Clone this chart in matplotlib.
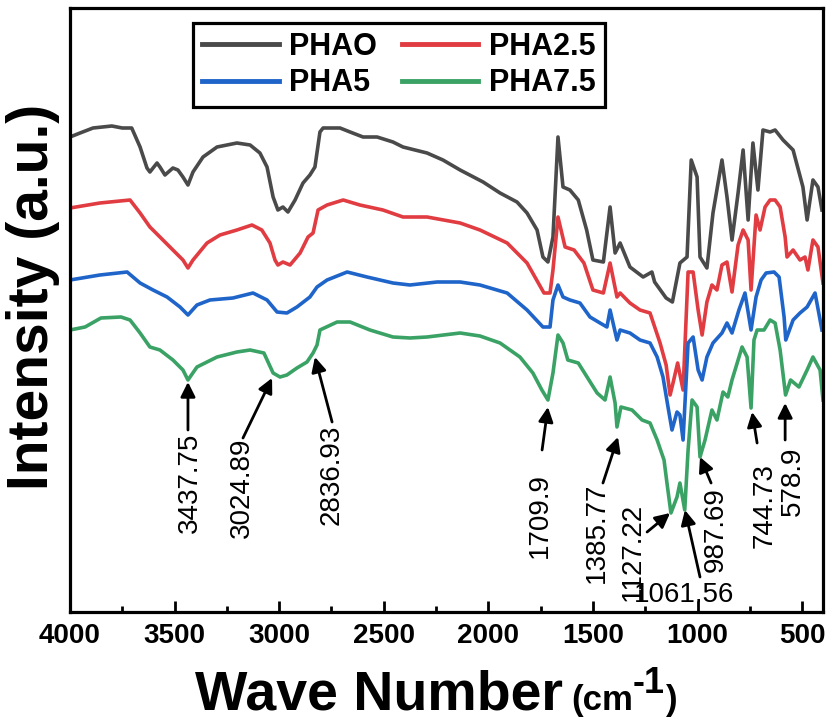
import matplotlib.pyplot as plt
from matplotlib.ticker import MultipleLocator
from matplotlib.transforms import IdentityTransform

plt.rcParams['font.family'] = ['Liberation Sans', 'DejaVu Sans']

# FTIR spectra (intensity in arbitrary units, offset stacked)
phao_wn = [4000, 3952, 3890, 3800, 3750, 3705, 3665, 3632, 3618, 3584, 3570, 3546, 3508, 3484, 3460,
           3436, 3412, 3364, 3297, 3202, 3139, 3092, 3058, 3029, 3006, 2982, 2958, 2924, 2886, 2853,
           2829, 2805, 2790, 2709, 2661, 2599, 2532, 2456, 2408, 2293, 2217, 2135, 2025, 1944, 1863,
           1815, 1767, 1739, 1715, 1691, 1667, 1643, 1610, 1570, 1530, 1500, 1450, 1418, 1394, 1370,
           1323, 1260, 1218, 1205, 1150, 1120, 1084, 1050, 1030, 1002, 988, 955, 926, 883, 859,
           835, 806, 782, 758, 735, 711, 687, 653, 629, 591, 543, 496, 476, 448, 424, 405]
phao_int = [475, 479, 484, 486, 484, 484, 465, 444, 440, 449, 445, 437, 444, 442, 435,
            427, 440, 455, 465, 469, 467, 459, 445, 415, 402, 405, 400, 412, 429, 437,
            445, 480, 484, 484, 480, 475, 475, 470, 465, 459, 452, 442, 430, 419, 410,
            399, 382, 355, 350, 375, 475, 425, 422, 412, 382, 352, 350, 405, 359, 369,
            345, 335, 340, 330, 314, 310, 349, 355, 452, 435, 355, 344, 399, 452, 415,
            372, 419, 462, 392, 469, 422, 482, 480, 482, 472, 462, 425, 392, 432, 425, 402]

pha25_wn = [4000, 3857, 3713, 3665, 3618, 3570, 3508, 3460, 3436, 3412, 3345, 3283, 3202, 3130, 3083,
            3044, 3020, 3006, 2982, 2948, 2900, 2862, 2838, 2814, 2771, 2694, 2614, 2504, 2408, 2293,
            2135, 2040, 1910, 1815, 1734, 1705, 1691, 1667, 1633, 1590, 1543, 1500, 1450, 1418, 1385,
            1370, 1323, 1275, 1227, 1179, 1150, 1131, 1117, 1095, 1069, 1045, 1021, 997, 978, 955,
            931, 907, 883, 859, 835, 806, 782, 758, 744, 720, 701, 677, 653, 629, 605,
            581, 572, 543, 510, 486, 472, 448, 424, 400]
pha25_int = [404, 409, 412, 399, 385, 375, 362, 352, 344, 352, 369, 377, 382, 387, 382,
             369, 352, 347, 350, 347, 359, 375, 379, 402, 407, 412, 407, 402, 395, 395,
             389, 382, 369, 349, 319, 319, 342, 395, 365, 362, 349, 322, 319, 349, 315,
             319, 309, 302, 299, 269, 247, 217, 229, 249, 222, 340, 340, 302, 277, 310,
             327, 322, 347, 350, 320, 367, 382, 372, 322, 397, 382, 405, 412, 412, 405,
             375, 355, 362, 352, 355, 342, 372, 365, 329]

pha5_wn = [4000, 3857, 3727, 3665, 3603, 3536, 3474, 3436, 3393, 3331, 3221, 3125, 3058, 3010, 2963,
           2915, 2853, 2819, 2771, 2675, 2580, 2456, 2375, 2245, 2135, 2040, 1910, 1815, 1739, 1705,
           1691, 1667, 1643, 1610, 1562, 1514, 1466, 1433, 1418, 1385, 1370, 1323, 1275, 1227, 1193,
           1165, 1141, 1122, 1098, 1084, 1069, 1045, 1021, 997, 978, 955, 926, 883, 859, 835,
           802, 773, 744, 720, 696, 672, 634, 610, 586, 578, 543, 510, 476, 438, 405]
pha5_int = [332, 337, 340, 329, 322, 315, 305, 297, 307, 312, 314, 319, 312, 300, 299,
            305, 315, 325, 332, 340, 335, 329, 327, 330, 330, 327, 319, 302, 285, 285,
            312, 327, 315, 312, 309, 295, 289, 285, 302, 272, 282, 279, 272, 269, 255,
            235, 205, 182, 200, 197, 172, 269, 275, 242, 232, 255, 269, 279, 289, 279,
            302, 319, 282, 315, 332, 339, 340, 335, 295, 272, 292, 299, 305, 319, 282]

pha75_wn = [4000, 3928, 3852, 3756, 3713, 3665, 3618, 3570, 3508, 3460, 3436, 3393, 3297, 3202, 3139,
            3073, 3029, 2996, 2963, 2915, 2867, 2838, 2819, 2805, 2723, 2661, 2566, 2456, 2375, 2293,
            2135, 2040, 1944, 1849, 1787, 1744, 1715, 1691, 1667, 1643, 1620, 1570, 1528, 1480, 1442,
            1418, 1394, 1385, 1366, 1313, 1265, 1227, 1193, 1160, 1146, 1127, 1098, 1084, 1061, 1045,
            1026, 1002, 988, 964, 931, 907, 878, 855, 835, 787, 763, 744, 730, 715, 682,
            653, 629, 605, 579, 555, 515, 476, 448, 414, 400]
pha75_int = [282, 285, 294, 295, 292, 279, 265, 262, 252, 242, 232, 245, 255, 260, 262,
             259, 239, 235, 237, 244, 250, 259, 267, 282, 290, 290, 282, 275, 274, 275,
             279, 276, 269, 255, 239, 222, 212, 239, 277, 269, 252, 249, 235, 219, 212,
             235, 209, 185, 205, 202, 192, 189, 172, 152, 129, 99, 115, 129, 102, 162,
             212, 205, 155, 172, 202, 192, 220, 215, 232, 265, 255, 204, 272, 282, 282,
             292, 289, 262, 217, 232, 225, 242, 255, 242, 212]

names = ['PHAO', 'PHA2.5', 'PHA5', 'PHA7.5']
colors = ['#4a4a4a', '#e03c41', '#1f65c9', '#3ba266']

peak_labels = ['3437.75', '3024.89', '2836.93', '1709.9', '1385.77',
               '1127.22', '1061.56', '987.69', '744.73', '578.9']

# (arrow head, arrow tail, text anchor, rotation) in data coordinates
peak_layout = [
    ((3436, 230), (3436, 182), (3426, 179), 90),
    ((3034, 234), (3173, 174), (3178, 174), 90),
    ((2829, 255), (2747, 190), (2747, 187), 90),
    ((1715, 205), (1743, 162), (1753, 139), 90),
    ((1380, 175), (1452, 129), (1480, 129), 90),
    ((1131, 99), (1241, 80), (1308, 109), 90),
    ((1060, 102), (988, 35), (1064, 17), 0),
    ((988, 155), (935, 129), (912, 125), 90),
    ((739, 200), (715, 169), (677, 149), 90),
    ((581, 209), (581, 172), (543, 165), 90),
]

fig = plt.figure(figsize=(8.3, 7.24), dpi=100)
ax = fig.add_axes([70 / 830, 112 / 724, 753 / 830, 604 / 724])

series = [(phao_wn, phao_int), (pha25_wn, pha25_int), (pha5_wn, pha5_int), (pha75_wn, pha75_int)]
lines = []
for (wn, it), name, c in zip(series, names, colors):
    ln, = ax.plot(wn, it, color=c, lw=2.6, label=name, solid_joinstyle='round')
    lines.append(ln)

ax.set_xlim(4000, 400)
ax.set_ylim(0, 604)
ax.set_yticks([])
ax.xaxis.set_major_locator(MultipleLocator(500))
ax.xaxis.set_minor_locator(MultipleLocator(250))
ax.tick_params(axis='x', which='major', direction='in', length=8, width=2, pad=8,
               labelsize=20)
ax.tick_params(axis='x', which='minor', direction='in', length=4.5, width=2)
for lab in ax.get_xticklabels():
    lab.set_fontweight('bold')
for sp in ax.spines.values():
    sp.set_linewidth(2.3)

for lab, (head, tail, txt, rot) in zip(peak_labels, peak_layout):
    ax.annotate('', xy=head, xytext=tail,
                arrowprops=dict(arrowstyle='-|>', color='black', lw=2, mutation_scale=22,
                                shrinkA=0, shrinkB=0))
    if rot == 90:
        ax.text(txt[0], txt[1], lab, rotation=90, ha='center', va='top', fontsize=20)
    else:
        ax.text(txt[0], txt[1], lab, ha='center', va='center', fontsize=20)

# legend filled row-wise: PHAO, PHA2.5 / PHA5, PHA7.5
order = [0, 2, 1, 3]
leg = ax.legend([lines[i] for i in order], [names[i] for i in order], ncol=2,
                loc='upper left', bbox_to_anchor=(123 / 753, 589 / 604),
                borderaxespad=0, frameon=True, fancybox=False, edgecolor='black',
                framealpha=1, handlelength=2.5, handletextpad=0.35, columnspacing=0.8,
                labelspacing=0.2, borderpad=0.3, prop={'weight': 'bold', 'size': 22})
leg.get_frame().set_linewidth(2.3)
for ln in leg.get_lines():
    ln.set_linewidth(3.5)

# axis titles
fig.text(33 / 830, 1 - 297 / 724, 'Intensity (a.u.)', rotation=90, ha='center', va='center',
         fontsize=41, fontweight='bold')

fig.canvas.draw()
r = fig.canvas.get_renderer()
ident = IdentityTransform()
base = 724 - 710
t1 = fig.text(195, base, 'Wave Number', transform=ident, fontsize=40, fontweight='bold',
              va='baseline', ha='left')
x = t1.get_window_extent(r).x1 + 8
t2 = fig.text(x, base, '(cm', transform=ident, fontsize=25, fontweight='bold',
              va='baseline', ha='left')
x = t2.get_window_extent(r).x1
t3 = fig.text(x, base + 17, '-1', transform=ident, fontsize=26, fontweight='bold',
              va='baseline', ha='left')
x = t3.get_window_extent(r).x1 + 1
fig.text(x, base, ')', transform=ident, fontsize=25, fontweight='bold',
         va='baseline', ha='left')

fig.savefig('out.png', dpi=100)
